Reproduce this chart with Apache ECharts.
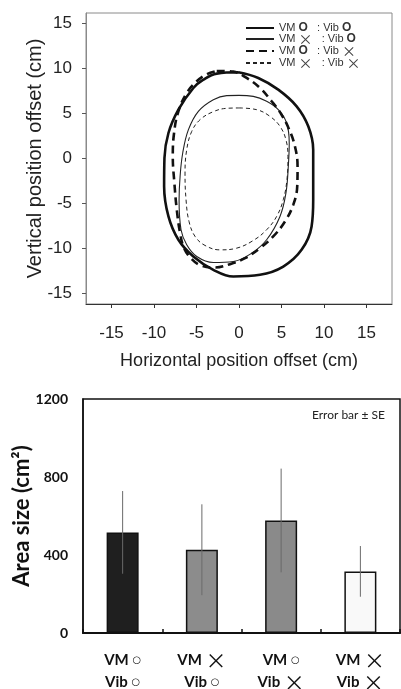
<!DOCTYPE html>
<html><head><meta charset="utf-8">
<script src="https://cdn.jsdelivr.net/npm/echarts@6/dist/echarts.min.js"></script>
<style>html,body{margin:0;padding:0;background:#fff}#c{width:401px;height:689px}</style>
</head><body><div id="c"></div>
<script>
// ---- Top chart: position traces (cm) ----
const traceVMoVibo = [[-0.08,9.52],[2.27,8.89],[4.62,7.59],[6.78,5.74],[8.15,3.52],[8.73,0.93],[8.73,-4.63],[8.54,-7.59],[7.36,-10.19],[5.21,-12.04],[2.47,-12.96],[-0.67,-13.15],[-3.02,-12.41],[-5.37,-10.93],[-7.13,-9.07],[-8.30,-6.48],[-8.81,-3.15],[-8.77,0],[-8.30,2.78],[-7.13,5.37],[-5.37,7.78],[-4.19,8.70],[-2.62,9.37],[-0.08,9.52]];
const traceVMxVibo = [[0,6.96],[1.68,6.85],[3.25,6.30],[4.62,5.37],[5.60,3.89],[5.91,1.67],[5.80,-0.93],[5.52,-3.89],[4.82,-6.48],[3.25,-9.07],[1.49,-10.56],[-0.67,-11.48],[-3.02,-11.59],[-4.97,-10.93],[-6.15,-9.63],[-6.82,-7.96],[-7.05,-4.63],[-6.93,-2.04],[-6.62,0.56],[-5.95,3.15],[-4.78,5.19],[-3.02,6.48],[-1.45,6.93],[0,6.96]];
const traceVMoVibx = [[-2.62,9.67],[-0.67,9.59],[0.90,8.89],[2.47,7.78],[3.84,6.30],[5.01,4.81],[5.91,3.15],[6.58,1.30],[6.89,-0.93],[6.85,-3.15],[6.38,-5.19],[5.41,-7.04],[4.03,-8.70],[2.47,-10.0],[0.71,-11.11],[-1.06,-11.78],[-2.82,-12.15],[-4.39,-11.96],[-5.56,-11.22],[-6.46,-10.0],[-6.93,-8.33],[-7.32,-5.74],[-7.60,-2.78],[-7.79,0.19],[-7.64,2.78],[-7.13,5.19],[-6.15,7.22],[-4.97,8.52],[-3.80,9.30],[-2.62,9.67]];
const traceVMxVibx = [[0,5.56],[2.08,5.37],[3.64,4.63],[4.82,3.52],[5.52,2.04],[5.76,0.19],[5.64,-2.41],[5.21,-4.63],[4.43,-6.48],[3.25,-7.96],[1.68,-9.15],[-0.27,-10.0],[-2.23,-10.19],[-4.0,-9.70],[-5.17,-8.70],[-5.88,-7.04],[-6.23,-4.63],[-6.35,-1.67],[-6.15,0.93],[-5.56,2.96],[-4.58,4.26],[-3.02,5.15],[-1.45,5.52],[0,5.56]];
const traceNames = ['VM ○ : Vib ○','VM × : Vib ○','VM ○ : Vib ×','VM × : Vib ×'];
const posTicks = [-15,-10,-5,0,5,10,15];

// ---- Bottom chart: area size ----
const categories = ['VM ○\nVib ○','VM ×\nVib ○','VM ○\nVib ×','VM ×\nVib ×'];
const areaMean = [516, 427, 577, 316];
const areaSE = [212, 233, 266, 130];
const areaTicks = [0, 400, 800, 1200];

const barColors = ['#1f1f1f','#8c8c8c','#8a8a8a','#f9f9f9'];

function richSym(s){
  return s.replace(/○/g,'{o|○}').replace(/×/g,'{x|×}');
}

const chart = echarts.init(document.getElementById('c'), null, {renderer:'canvas'});
const topFont = 'Liberation Sans';
const botFont = 'Lato';

const option = {
  animation:false,
  backgroundColor:'#fff',
  grid:[
    {left:86, top:13, width:306, height:291, show:true, borderColor:'#8a8a8a', borderWidth:1, containLabel:false, outerBoundsMode:'none'},
    {left:83, top:399, width:317, height:234, show:true, borderColor:'#111', borderWidth:1.5, containLabel:false, outerBoundsMode:'none'}
  ],
  legend:{
    data:traceNames,
    orient:'vertical',
    left:240, top:17,
    itemWidth:28, itemHeight:10, itemGap:-2,
    itemStyle:{opacity:0},
    textStyle:{fontFamily:topFont, fontSize:11, color:'#333', lineHeight:10,
      rich:{t:{fontSize:11, color:'#333', lineHeight:10, fontFamily:topFont},
            o:{fontSize:12, fontWeight:'bold', color:'#333', lineHeight:10, fontFamily:topFont},
            x:{fontSize:14, color:'#444', lineHeight:10, fontFamily:'Noto Sans CJK JP'}}},
    formatter:n=>{const p=n.split(' : ');
      const sym=c=>c==='○'?'{o|O}':'{x|×}';
      const a=p[0].split(' '), b=p[1].split(' ');
      return '{t|VM }'+sym(a[1])+'{t|   : Vib }'+sym(b[1]);}
  },
  xAxis:[
    {gridIndex:0, type:'value', min:-18, max:18,
     name:'Horizontal position offset (cm)', nameLocation:'middle', nameGap:48, nameMoveOverlap:false,
     nameTextStyle:{fontFamily:topFont, fontSize:18, color:'#222'},
     axisLine:{show:true, onZero:false, lineStyle:{color:'#333', width:1}},
     axisTick:{show:true, length:4, customValues:posTicks, lineStyle:{color:'#333'}},
     axisLabel:{margin:21, fontFamily:topFont, fontSize:17, color:'#222', customValues:posTicks},
     splitLine:{show:false}},
    {gridIndex:1, type:'category', data:categories,
     axisLine:{show:true, lineStyle:{color:'#111', width:2}},
     axisTick:{show:true, inside:true, length:4, lineStyle:{color:'#111', width:1.5}},
     axisLabel:{margin:16, fontFamily:botFont, fontWeight:'bold', fontSize:15, color:'#111', lineHeight:22,
       formatter:v=>richSym(v),
       rich:{o:{fontSize:10, fontWeight:'bold', color:'#111', fontFamily:'DejaVu Sans', lineHeight:22},
             x:{fontSize:21, fontWeight:'normal', color:'#111', fontFamily:'Noto Sans CJK JP', lineHeight:22}}},
     splitLine:{show:false}}
  ],
  yAxis:[
    {gridIndex:0, type:'value', min:-16.2, max:16.1,
     name:'Vertical position offset (cm)', nameLocation:'middle', nameGap:41, nameMoveOverlap:false,
     nameTextStyle:{fontFamily:topFont, fontSize:20, color:'#222'},
     axisLine:{show:true, onZero:false, lineStyle:{color:'#8a8a8a', width:1}},
     axisTick:{show:true, length:4, customValues:posTicks, lineStyle:{color:'#555'}},
     axisLabel:{margin:14, fontFamily:topFont, fontSize:17, color:'#222', customValues:posTicks},
     splitLine:{show:false}},
    {gridIndex:1, type:'value', min:0, max:1200, interval:400,
     name:'Area size (cm²)', nameLocation:'middle', nameGap:50, nameMoveOverlap:false,
     nameTextStyle:{fontFamily:botFont, fontSize:22, fontWeight:'bold', color:'#111'},
     axisLine:{show:true, lineStyle:{color:'#111', width:1.5}},
     axisTick:{show:false},
     axisLabel:{margin:15, fontFamily:botFont, fontWeight:'bold', fontSize:14, color:'#111', formatter:v=>String(v)},
     splitLine:{show:false}}
  ],
  graphic:[
    {type:'text', right:16, top:409, style:{text:'Error bar ± SE', fontFamily:botFont, fontSize:12, fill:'#222'}}
  ],
  series:[
    {name:traceNames[0], type:'line', xAxisIndex:0, yAxisIndex:0, data:traceVMoVibo, smooth:0.4, symbol:'none',
     lineStyle:{color:'#111', width:2.6, type:'solid'}, itemStyle:{color:'#111'}},
    {name:traceNames[1], type:'line', xAxisIndex:0, yAxisIndex:0, data:traceVMxVibo, smooth:0.4, symbol:'none',
     lineStyle:{color:'#222', width:1.1, type:'solid'}, itemStyle:{color:'#222'}},
    {name:traceNames[2], type:'line', xAxisIndex:0, yAxisIndex:0, data:traceVMoVibx, smooth:0.4, symbol:'none',
     lineStyle:{color:'#111', width:2.6, type:[8,5]}, itemStyle:{color:'#111'}},
    {name:traceNames[3], type:'line', xAxisIndex:0, yAxisIndex:0, data:traceVMxVibx, smooth:0.4, symbol:'none',
     lineStyle:{color:'#222', width:1, type:[4,3]}, itemStyle:{color:'#222'}},
    {type:'bar', xAxisIndex:1, yAxisIndex:1, barWidth:32,
     data:areaMean.map((v,i)=>({value:v, itemStyle:{color:barColors[i]}})),
     itemStyle:{borderColor:'#111', borderWidth:1.5}},
    {type:'custom', xAxisIndex:1, yAxisIndex:1, z:10,
     data:areaMean.map((v,i)=>[i, v-areaSE[i], v+areaSE[i]]),
     renderItem:(params, api)=>{
       const lo = api.coord([api.value(0), api.value(1)]);
       const hi = api.coord([api.value(0), api.value(2)]);
       return {type:'line', shape:{x1:lo[0], y1:lo[1], x2:hi[0], y2:hi[1]}, style:{stroke:'#6a6a6a', lineWidth:1}};
     }}
  ]
};
chart.setOption(option);
</script></body></html>
